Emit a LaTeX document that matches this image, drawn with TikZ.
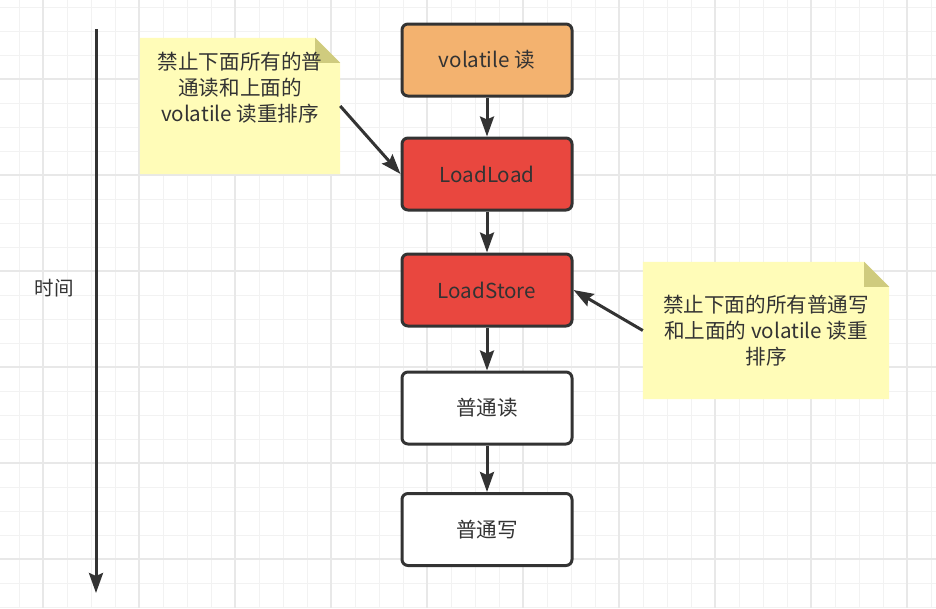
\documentclass[tikz,border=0pt]{standalone}
\usepackage{fontspec}
\setmainfont{Noto Sans CJK SC}
\usetikzlibrary{arrows.meta}
\definecolor{ink}{HTML}{333333}
\definecolor{orangefill}{HTML}{F3B26F}
\definecolor{redfill}{HTML}{E9473F}
\definecolor{notefill}{HTML}{FFFCB8}
\definecolor{notefold}{HTML}{CFCB7E}
\definecolor{gridminor}{HTML}{F2F2F2}
\definecolor{gridmajor}{HTML}{E8E8E8}
\tikzset{
  stepbox/.style={draw=ink, line width=3pt, rounded corners=6pt, minimum width=170pt, minimum height=72pt, inner sep=0pt, font=\fontsize{20.6pt}{24pt}\selectfont, text=ink},
  notebox/.style={inner sep=0pt},
  notetext/.style={align=center, font=\fontsize{20.6pt}{26pt}\selectfont, text=ink, inner sep=0pt},
  flow/.style={draw=ink, line width=3pt, -{Stealth[length=20pt, width=14pt, inset=3pt]}},
}
\begin{document}
\begin{tikzpicture}[x=1pt, y=-1pt]
\useasboundingbox (0,0) rectangle (936,608);
\fill[white] (0,0) rectangle (936,608);
% grid
\foreach \x in {19,43,...,935} \draw[gridminor, line width=1pt] (\x,0) -- (\x,608);
\foreach \y in {7,31,...,607} \draw[gridminor, line width=1pt] (0,\y) -- (936,\y);
\foreach \x in {43,139,...,935} \draw[gridmajor, line width=2pt] (\x,0) -- (\x,608);
\foreach \y in {79,175,...,607} \draw[gridmajor, line width=2pt] (0,\y) -- (936,\y);

% time axis
\coordinate (t1) at (96,29);
\coordinate (t2) at (96,593);
\draw[flow] (t1) -- (t2);
\node[text=ink, font=\fontsize{19.5pt}{22pt}\selectfont] (time) at (54,288) {时间};

% boxes
\node[stepbox, fill=orangefill] (v) at (487,60) {volatile 读};
\node[stepbox, fill=redfill] (ll) at (487,174) {LoadLoad};
\node[stepbox, fill=redfill] (ls) at (487,290) {LoadStore};
\node[stepbox, fill=white] (r) at (487,408) {普通读};
\node[stepbox, fill=white] (w) at (487,529.5) {普通写};

\draw[flow] (v) -- (ll);
\draw[flow] (ll) -- (ls);
\draw[flow] (ls) -- (r);
\draw[flow] (r) -- (w);

% notes
\node[notebox, minimum width=200pt, minimum height=136pt] (nl) at (240,106) {};
\fill[notefill] (nl.north west) -- ([xshift=-25pt]nl.north east) -- ([yshift=-25pt]nl.north east) -- (nl.south east) -- (nl.south west) -- cycle;
\fill[notefold] ([xshift=-25pt]nl.north east) -- ([xshift=-25pt,yshift=-25pt]nl.north east) -- ([yshift=-25pt]nl.north east) -- cycle;
\node[notetext] (nlt) at (240,88) {禁止下面所有的普\\通读和上面的\\volatile 读重排序};

\node[notebox, minimum width=246pt, minimum height=137pt] (nr) at (766,330.5) {};
\fill[notefill] (nr.north west) -- ([xshift=-25pt]nr.north east) -- ([yshift=-25pt]nr.north east) -- (nr.south east) -- (nr.south west) -- cycle;
\fill[notefold] ([xshift=-25pt]nr.north east) -- ([xshift=-25pt,yshift=-25pt]nr.north east) -- ([yshift=-25pt]nr.north east) -- cycle;
\node[notetext] (nrt) at (766,331) {禁止下面的所有普通写\\和上面的 volatile 读重\\排序};

\draw[flow] (nl.east) -- (ll.west);
\draw[flow] (nr.west) -- (ls.east);
\end{tikzpicture}
\end{document}
